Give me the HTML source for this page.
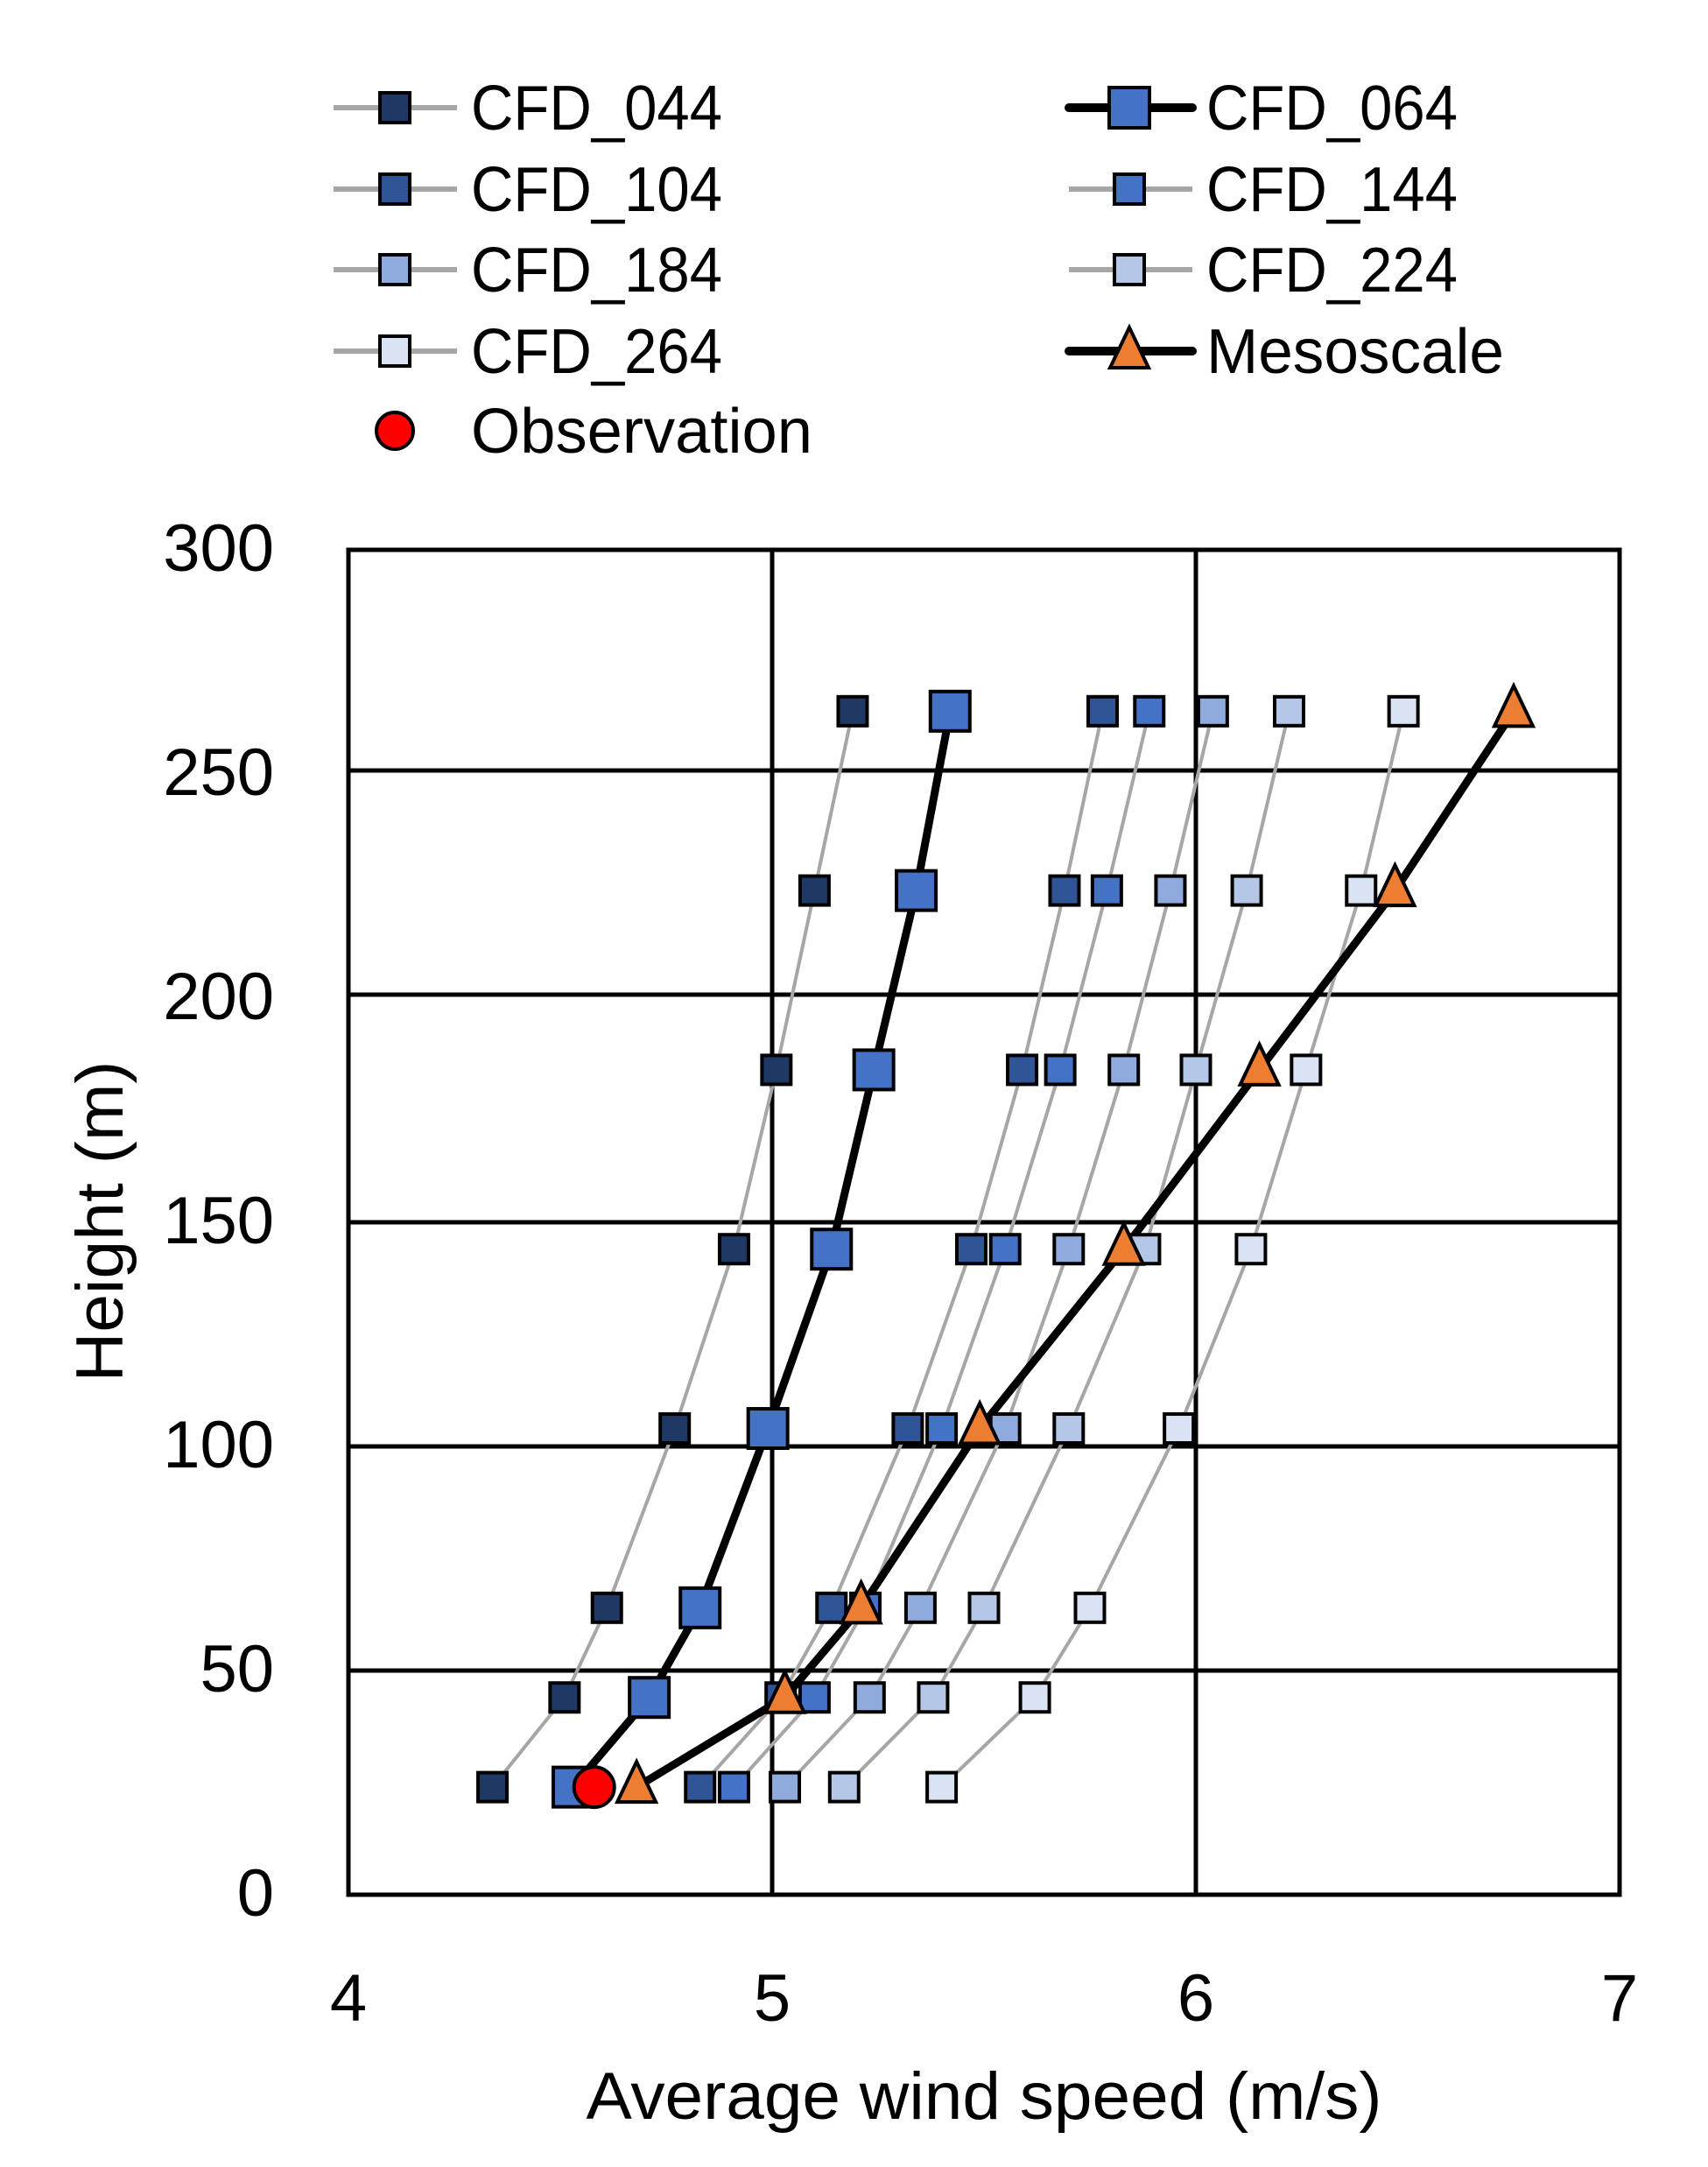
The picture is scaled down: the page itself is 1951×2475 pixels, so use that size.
<!DOCTYPE html>
<html><head><meta charset="utf-8"><style>html,body{margin:0;padding:0;background:#fff}</style></head>
<body>
<svg id="s" width="1951" height="2470" viewBox="0 0 1951 2470" xmlns="http://www.w3.org/2000/svg" font-family="Liberation Sans, sans-serif">
<rect width="1951" height="2470" fill="#fff"/>
<g id="grid" stroke="#000" stroke-width="5" fill="none">
<line x1="882" y1="628" x2="882" y2="2164"/>
<line x1="1366" y1="628" x2="1366" y2="2164"/>
<line x1="398" y1="880" x2="1850" y2="880"/>
<line x1="398" y1="1136" x2="1850" y2="1136"/>
<line x1="398" y1="1396" x2="1850" y2="1396"/>
<line x1="398" y1="1652" x2="1850" y2="1652"/>
<line x1="398" y1="1908" x2="1850" y2="1908"/>
<rect x="398" y="628" width="1452" height="1536"/>
</g>
<g font-size="76" fill="#000" text-anchor="end">
<text x="313" y="652">300</text>
<text x="313" y="908">250</text>
<text x="313" y="1164">200</text>
<text x="313" y="1420">150</text>
<text x="313" y="1676">100</text>
<text x="313" y="1932">50</text>
<text x="313" y="2188">0</text>
</g>
<g font-size="76" fill="#000" text-anchor="middle">
<text x="398" y="2308">4</text>
<text x="882" y="2308">5</text>
<text x="1366" y="2308">6</text>
<text x="1850" y="2308">7</text>
<text x="1124" y="2420" textLength="909" lengthAdjust="spacingAndGlyphs">Average wind speed (m/s)</text>
<text transform="translate(140,1395) rotate(-90)" textLength="367" lengthAdjust="spacingAndGlyphs">Height (m)</text>
</g>
<g id="data"></g>
<g id="legend" font-size="72" fill="#000">
<text x="538" y="148" textLength="287" lengthAdjust="spacingAndGlyphs">CFD_044</text>
<text x="538" y="241" textLength="287" lengthAdjust="spacingAndGlyphs">CFD_104</text>
<text x="538" y="333" textLength="287" lengthAdjust="spacingAndGlyphs">CFD_184</text>
<text x="538" y="426" textLength="287" lengthAdjust="spacingAndGlyphs">CFD_264</text>
<text x="538" y="517" textLength="390" lengthAdjust="spacingAndGlyphs">Observation</text>
<text x="1378" y="148" textLength="287" lengthAdjust="spacingAndGlyphs">CFD_064</text>
<text x="1378" y="241" textLength="287" lengthAdjust="spacingAndGlyphs">CFD_144</text>
<text x="1378" y="333" textLength="287" lengthAdjust="spacingAndGlyphs">CFD_224</text>
<text x="1378" y="426" textLength="340" lengthAdjust="spacingAndGlyphs">Mesoscale</text>
</g>
</svg>
<script>
var NS="http://www.w3.org/2000/svg";
var d=document.getElementById('data');
var L=document.getElementById('legend');
function el(p,t,a){var e=document.createElementNS(NS,t);for(var k in a)e.setAttribute(k,a[k]);p.appendChild(e);return e;}
var H=[24,44,64,104,144,184,224,264];
function X(v){return 398+(v-4)*484;}function Y(h){return 2164-h*5.12;}
var S={
c044:{v:[4.34,4.51,4.61,4.77,4.91,5.01,5.10,5.19],c:"#1f3864"},
c104:{v:[4.83,5.02,5.14,5.32,5.47,5.59,5.69,5.78],c:"#2f5597"},
c144:{v:[4.91,5.10,5.22,5.40,5.55,5.68,5.79,5.89],c:"#4472c4"},
c184:{v:[5.03,5.23,5.35,5.55,5.70,5.83,5.94,6.04],c:"#8faadc"},
c224:{v:[5.17,5.38,5.50,5.70,5.88,6.00,6.12,6.22],c:"#b4c7e7"},
c264:{v:[5.40,5.62,5.75,5.96,6.13,6.26,6.39,6.49],c:"#dae3f3"},
c064:{v:[4.53,4.71,4.83,4.99,5.14,5.24,5.34,5.42],c:"#4472c4"}};
var meso=[4.68,5.03,5.21,5.49,5.83,6.15,6.47,6.75];
function pts(v){return v.map(function(x,i){return X(x).toFixed(1)+","+Y(H[i]).toFixed(1)}).join(" ");}
function sq(p,x,y,s,c){el(p,'rect',{x:x-s/2,y:y-s/2,width:s,height:s,fill:c,stroke:"#000","stroke-width":4});}
function tri(p,x,y){el(p,'polygon',{points:(x)+","+(y-26)+" "+(x-22)+","+(y+20)+" "+(x+22)+","+(y+20),fill:"#ed7d31",stroke:"#000","stroke-width":4,"stroke-linejoin":"miter"});}
["c044","c104","c144","c184","c224","c264"].forEach(function(k){el(d,'polyline',{points:pts(S[k].v),fill:"none",stroke:"#a6a6a6","stroke-width":4});});
el(d,'polyline',{points:pts(S.c064.v),fill:"none",stroke:"#000","stroke-width":9,"stroke-linejoin":"round"});
el(d,'polyline',{points:pts(meso),fill:"none",stroke:"#000","stroke-width":9,"stroke-linejoin":"round"});
["c044","c104","c144","c184","c224","c264"].forEach(function(k){S[k].v.forEach(function(v,i){sq(d,X(v),Y(H[i]),33,S[k].c);});});
S.c064.v.forEach(function(v,i){sq(d,X(v),Y(H[i]),45,"#4472c4");});
el(d,'circle',{cx:X(4.58),cy:Y(24),r:23,fill:"#ff0000",stroke:"#000","stroke-width":4});
meso.forEach(function(v,i){tri(d,X(v),Y(H[i])-3);});
var rows=[123,216,308,401];
var c1=["#1f3864","#2f5597","#8faadc","#dae3f3"];
rows.forEach(function(y,i){el(L,'line',{x1:381,y1:y,x2:522,y2:y,stroke:"#a6a6a6","stroke-width":6});sq(L,451,y,34,c1[i]);});
el(L,'line',{x1:1221,y1:123,x2:1362,y2:123,stroke:"#000","stroke-width":10,"stroke-linecap":"round"});sq(L,1290,123,46,"#4472c4");
el(L,'line',{x1:1221,y1:216,x2:1362,y2:216,stroke:"#a6a6a6","stroke-width":6});sq(L,1290,216,34,"#4472c4");
el(L,'line',{x1:1221,y1:308,x2:1362,y2:308,stroke:"#a6a6a6","stroke-width":6});sq(L,1290,308,34,"#b4c7e7");
el(L,'line',{x1:1221,y1:401,x2:1362,y2:401,stroke:"#000","stroke-width":10,"stroke-linecap":"round"});tri(L,1290,400);
el(L,'circle',{cx:451,cy:492,r:21,fill:"#ff0000",stroke:"#000","stroke-width":4});
</script>
</body></html>
